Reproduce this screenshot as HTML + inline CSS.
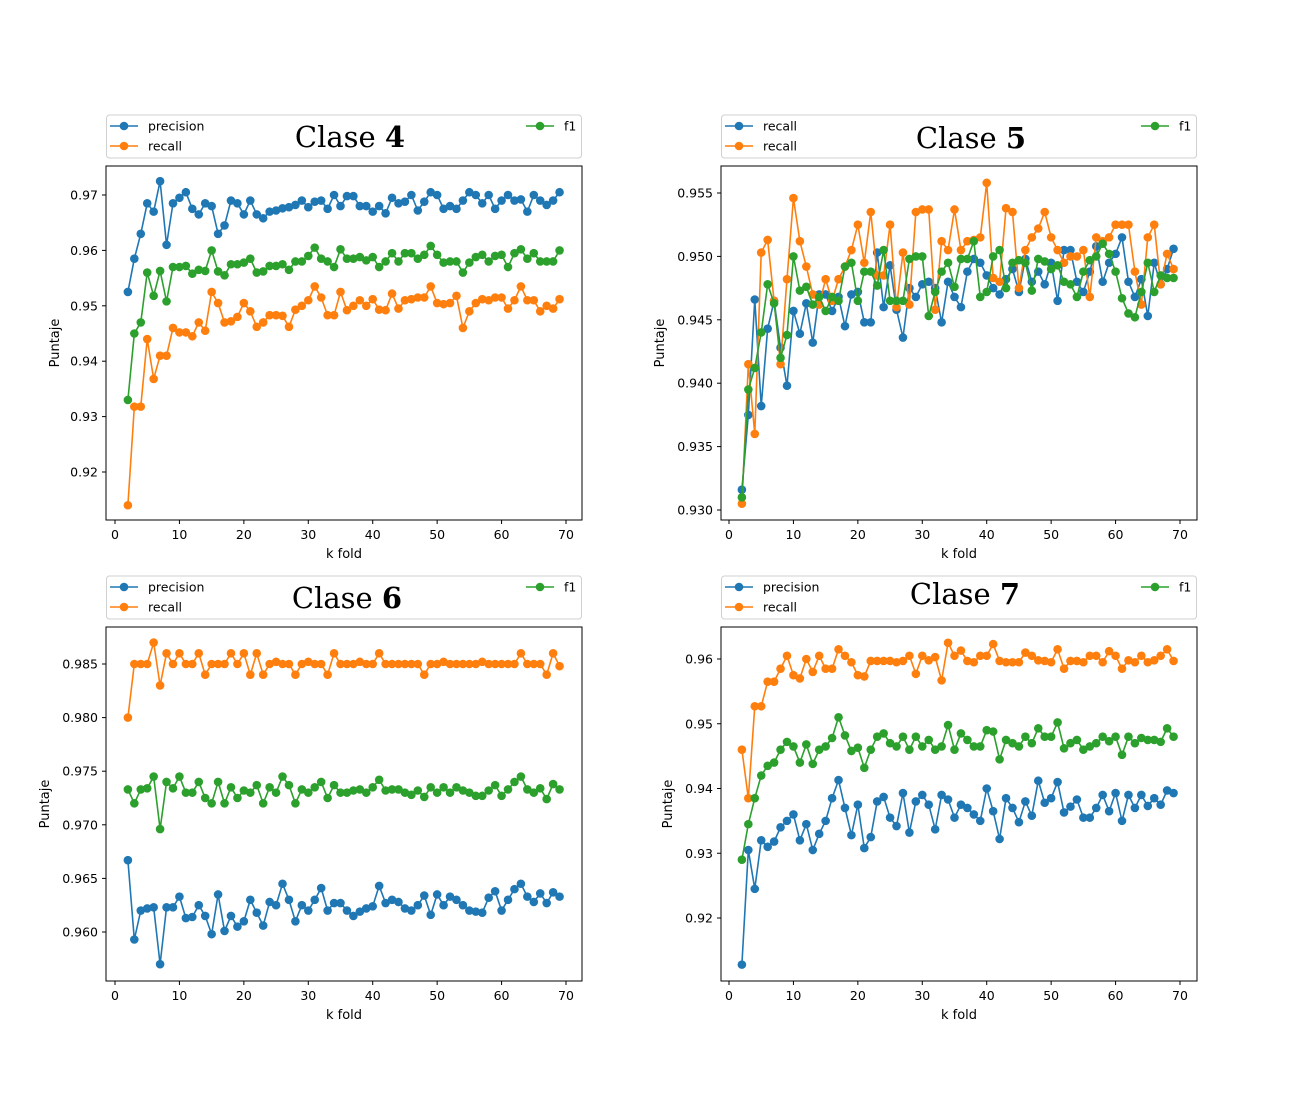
<!DOCTYPE html>
<html><head><meta charset="utf-8"><style>
body{margin:0;background:#fff;}
svg{display:block;font-family:"DejaVu Sans","Liberation Sans",sans-serif;}
</style></head><body>
<svg id="fig" width="1300" height="1100" viewBox="0 0 1300 1100" xmlns="http://www.w3.org/2000/svg"></svg>
<script>
const kFolds = Array.from({length:68},(_, i)=>i+2);
const xTicks = [0,10,20,30,40,50,60,70];

const c4Precision=[0.9525,0.9585,0.963,0.9685,0.967,0.9725,0.961,0.9685,0.9695,0.9705,0.9675,0.9665,0.9685,0.968,0.963,0.9645,0.969,0.9685,0.9665,0.969,0.9665,0.9658,0.967,0.9672,0.9676,0.9678,0.9682,0.969,0.9678,0.9688,0.969,0.9675,0.970,0.968,0.9698,0.9698,0.968,0.968,0.967,0.968,0.9667,0.9695,0.9685,0.9688,0.970,0.9672,0.9688,0.9705,0.970,0.9675,0.968,0.9675,0.969,0.9705,0.970,0.9685,0.970,0.9675,0.969,0.970,0.969,0.9692,0.967,0.970,0.969,0.9682,0.969,0.9705];
const c4Recall=[0.914,0.9318,0.9318,0.944,0.9368,0.941,0.941,0.946,0.9452,0.9452,0.9445,0.947,0.9455,0.9525,0.9505,0.947,0.9472,0.948,0.9505,0.949,0.9462,0.947,0.9483,0.9483,0.9482,0.9462,0.9493,0.950,0.951,0.9535,0.9515,0.9483,0.9483,0.9525,0.9492,0.950,0.951,0.950,0.9512,0.9493,0.9492,0.9522,0.9495,0.951,0.9512,0.9515,0.9515,0.9535,0.9505,0.9503,0.9505,0.9518,0.946,0.949,0.9505,0.9512,0.951,0.9515,0.9515,0.9495,0.951,0.9535,0.951,0.951,0.949,0.950,0.9495,0.9512];
const c4F1=[0.933,0.945,0.947,0.956,0.9518,0.9563,0.9508,0.957,0.957,0.9572,0.9558,0.9565,0.9563,0.960,0.9562,0.9555,0.9575,0.9575,0.9578,0.9585,0.956,0.9562,0.9572,0.9572,0.9575,0.9565,0.958,0.958,0.959,0.9605,0.9585,0.958,0.957,0.9602,0.9585,0.9585,0.9588,0.9582,0.9588,0.957,0.958,0.9595,0.958,0.9595,0.9595,0.9585,0.9592,0.9608,0.9592,0.9578,0.958,0.958,0.956,0.9578,0.9588,0.9592,0.958,0.959,0.9592,0.957,0.9595,0.9602,0.9585,0.9595,0.958,0.958,0.958,0.960];

const c5RecallA=[0.9316,0.9375,0.9466,0.9382,0.9443,0.9465,0.9428,0.9398,0.9457,0.9439,0.9463,0.9432,0.947,0.947,0.9457,0.9468,0.9445,0.947,0.9472,0.9448,0.9448,0.9503,0.946,0.9493,0.9458,0.9436,0.9475,0.9468,0.9478,0.948,0.9475,0.9448,0.948,0.9468,0.946,0.9488,0.9498,0.9495,0.9485,0.9475,0.947,0.9482,0.949,0.9472,0.9498,0.948,0.9488,0.9478,0.9495,0.9465,0.9505,0.9505,0.948,0.9472,0.9488,0.9508,0.948,0.9495,0.9502,0.9515,0.948,0.9468,0.9482,0.9453,0.9495,0.9478,0.949,0.9506];
const c5RecallB=[0.9305,0.9415,0.936,0.9503,0.9513,0.9465,0.9415,0.9482,0.9546,0.9512,0.9492,0.947,0.9462,0.9482,0.9465,0.9482,0.9492,0.9505,0.9525,0.9495,0.9535,0.9485,0.9485,0.9525,0.946,0.9503,0.9462,0.9535,0.9537,0.9537,0.9458,0.9512,0.9505,0.9537,0.9505,0.9512,0.9513,0.9515,0.9558,0.9483,0.948,0.9538,0.9535,0.9475,0.9505,0.9515,0.9522,0.9535,0.9515,0.9505,0.9495,0.950,0.950,0.9505,0.9468,0.9515,0.9512,0.9515,0.9525,0.9525,0.9525,0.9488,0.9462,0.9515,0.9525,0.9478,0.9502,0.949];
const c5F1=[0.9310,0.9395,0.9412,0.9440,0.9478,0.9463,0.9420,0.9438,0.9500,0.9473,0.9476,0.9462,0.9468,0.9457,0.9468,0.9465,0.9492,0.9495,0.9465,0.9488,0.9488,0.9477,0.9505,0.9465,0.9465,0.9465,0.9498,0.9500,0.9500,0.9453,0.9472,0.9488,0.9495,0.9476,0.9498,0.9498,0.9512,0.9468,0.9472,0.9500,0.9505,0.9475,0.9495,0.9497,0.9495,0.9473,0.9498,0.9496,0.9490,0.9493,0.9480,0.9478,0.9468,0.9488,0.9497,0.9500,0.9510,0.9502,0.9488,0.9467,0.9455,0.9452,0.9472,0.9495,0.9472,0.9485,0.9483,0.9483];

const c6Precision=[0.9667,0.9593,0.962,0.9622,0.9623,0.957,0.9623,0.9623,0.9633,0.9613,0.9614,0.9625,0.9615,0.9598,0.9635,0.9601,0.9615,0.9605,0.961,0.963,0.9618,0.9606,0.9628,0.9625,0.9645,0.963,0.961,0.9625,0.962,0.963,0.9641,0.962,0.9627,0.9627,0.962,0.9615,0.9619,0.9622,0.9624,0.9643,0.9627,0.963,0.9628,0.9622,0.962,0.9625,0.9634,0.9616,0.9635,0.9625,0.9633,0.963,0.9625,0.962,0.9619,0.9618,0.9632,0.9638,0.962,0.963,0.964,0.9645,0.9633,0.9628,0.9636,0.9627,0.9637,0.9633];
const c6Recall=[0.980,0.985,0.985,0.985,0.987,0.983,0.986,0.985,0.986,0.985,0.985,0.986,0.984,0.985,0.985,0.985,0.986,0.985,0.986,0.984,0.986,0.984,0.985,0.9852,0.985,0.985,0.984,0.985,0.9852,0.985,0.985,0.984,0.986,0.985,0.985,0.985,0.9852,0.985,0.985,0.986,0.985,0.985,0.985,0.985,0.985,0.985,0.984,0.985,0.985,0.9852,0.985,0.985,0.985,0.985,0.985,0.9852,0.985,0.985,0.985,0.985,0.985,0.986,0.985,0.985,0.985,0.984,0.986,0.9848];
const c6F1=[0.9733,0.972,0.9733,0.9734,0.9745,0.9696,0.974,0.9734,0.9745,0.973,0.973,0.974,0.9725,0.972,0.974,0.972,0.9735,0.9725,0.9732,0.973,0.9737,0.972,0.9735,0.973,0.9745,0.9737,0.972,0.9733,0.973,0.9735,0.974,0.9725,0.9737,0.973,0.973,0.9732,0.9733,0.973,0.9735,0.9742,0.9732,0.9733,0.9733,0.973,0.9728,0.9732,0.9726,0.9735,0.973,0.9735,0.973,0.9735,0.9732,0.973,0.9727,0.9727,0.9732,0.9737,0.9727,0.9733,0.974,0.9745,0.9733,0.973,0.9734,0.9724,0.9738,0.9733];

const c7Precision=[0.9128,0.9305,0.9245,0.932,0.931,0.9318,0.934,0.935,0.936,0.932,0.9345,0.9305,0.933,0.935,0.9385,0.9413,0.937,0.9328,0.9375,0.9308,0.9325,0.938,0.9387,0.9355,0.9342,0.9393,0.9332,0.938,0.939,0.9375,0.9337,0.939,0.9383,0.9355,0.9375,0.937,0.936,0.935,0.940,0.9365,0.9322,0.9385,0.937,0.9348,0.938,0.9358,0.9412,0.9378,0.9385,0.941,0.9363,0.9372,0.9383,0.9355,0.9355,0.937,0.939,0.9365,0.9393,0.935,0.939,0.937,0.939,0.9373,0.9385,0.9375,0.9397,0.9393];
const c7Recall=[0.946,0.9385,0.9527,0.9527,0.9565,0.9565,0.9585,0.9605,0.9575,0.957,0.960,0.958,0.9605,0.9585,0.9585,0.9615,0.9605,0.9595,0.9575,0.9573,0.9597,0.9597,0.9597,0.9597,0.9595,0.9597,0.9605,0.9577,0.9605,0.9598,0.9603,0.9567,0.9625,0.9605,0.9613,0.9597,0.9595,0.9605,0.9605,0.9623,0.9597,0.9595,0.9595,0.9595,0.961,0.9605,0.9598,0.9597,0.9595,0.9615,0.9585,0.9597,0.9597,0.9595,0.9605,0.9605,0.9595,0.9612,0.9605,0.9585,0.9598,0.9595,0.9605,0.9595,0.9598,0.9605,0.9615,0.9597];
const c7F1=[0.929,0.9345,0.9385,0.942,0.9435,0.944,0.946,0.9472,0.9465,0.944,0.9468,0.9438,0.946,0.9465,0.9478,0.951,0.9482,0.9458,0.9463,0.9432,0.946,0.948,0.9485,0.947,0.9465,0.948,0.946,0.948,0.9465,0.9475,0.946,0.9465,0.9498,0.946,0.9485,0.9475,0.9465,0.9465,0.949,0.9488,0.9445,0.9475,0.947,0.9465,0.948,0.947,0.9493,0.948,0.948,0.9502,0.9462,0.947,0.9475,0.946,0.9465,0.947,0.948,0.9473,0.948,0.9452,0.948,0.947,0.9478,0.9475,0.9475,0.9472,0.9493,0.948];

const yTicks4=[0.92,0.93,0.94,0.95,0.96,0.97];
const yTicks5=[0.930,0.935,0.940,0.945,0.950,0.955];
const yTicks6=[0.960,0.965,0.970,0.975,0.980,0.985];
const yTicks7=[0.92,0.93,0.94,0.95,0.96];

const NS="http://www.w3.org/2000/svg";
const svg=document.getElementById('fig');
const BLUE='#1f77b4',ORANGE='#ff7f0e',GREEN='#2ca02c';
function mk(tag,attrs,parent){const e=document.createElementNS(NS,tag);for(const k in attrs)e.setAttribute(k,attrs[k]);(parent||svg).appendChild(e);return e;}

function panel(p){
  const g=mk('g',{});
  
  
  const X=v=>p.x0+(v-0)*(p.x70-p.x0)/70;
  const Y=v=>p.yA+(v-p.vA)*(p.yB-p.yA)/(p.vB-p.vA);
  const fr=mk('rect',{x:p.l,y:p.t,width:p.r-p.l,height:p.b-p.t,fill:'#fff',stroke:'#000','stroke-width':1},g);
  
  
  xTicks.forEach(t=>{
    mk('line',{x1:X(t),x2:X(t),y1:p.b,y2:p.b+4,stroke:'#000'},g);
    const tx=mk('text',{x:X(t),y:p.b+19,'font-size':12.5,'text-anchor':'middle',fill:'#000'},g);
    tx.textContent=t;
    
    
  });
  p.yticks.forEach(t=>{
    mk('line',{x1:p.l-4,x2:p.l,y1:Y(t),y2:Y(t),stroke:'#000'},g);
    const tx=mk('text',{x:p.l-8,y:Y(t)+4.5,'font-size':12.5,'text-anchor':'end',fill:'#000'},g);
    tx.textContent=t.toFixed(p.dec);
    
    
  });
  const xl=mk('text',{x:(p.l+p.r)/2,y:p.b+38,'font-size':13,'text-anchor':'middle'},g);
  xl.textContent='k fold';
  
  
  const yl=mk('text',{x:p.ylx,y:(p.t+p.b)/2,'font-size':13,'text-anchor':'middle',transform:`rotate(-90 ${p.ylx} ${(p.t+p.b)/2})`},g);
  yl.textContent='Puntaje';
  
  
  p.series.forEach(s=>{
    const sg=mk('g',{},g);
    
    
    const pts=s.data.map((v,i)=>X(kFolds[i]).toFixed(2)+','+Y(v).toFixed(2)).join(' ');
    mk('polyline',{points:pts,fill:'none',stroke:s.color,'stroke-width':1.6},sg);
    s.data.forEach((v,i)=>{
      const c=mk('circle',{cx:X(kFolds[i]),cy:Y(v),r:4.3,fill:s.color},sg);
      
      
    });
  });
  const lg=mk('g',{},g);
  
  
  mk('rect',{x:p.l+0.5,y:p.lt,width:p.r-p.l-1,height:43,rx:3,fill:'#fff',stroke:'#d0d0d0'},lg);
  p.legend.forEach(e=>{
    mk('line',{x1:e.x,x2:e.x+28,y1:e.y,y2:e.y,stroke:e.color,'stroke-width':1.6},lg);
    mk('circle',{cx:e.x+14,cy:e.y,r:4.3,fill:e.color},lg);
    const t=mk('text',{x:e.x+38,y:e.y+4.5,'font-size':12.5},lg);
    t.textContent=e.label;
    
    
  });
  const ti=mk('text',{x:p.tx,y:p.ty,'font-size':29,'font-family':'"DejaVu Serif","Liberation Serif",serif','text-anchor':'middle'},g);
  ti.innerHTML=p.title+' <tspan font-weight="bold">'+p.num+'</tspan>';
  
  
}

function legendFor(l,lt,a,b){return [{x:l+4,y:lt+11,color:BLUE,label:a},{x:l+4,y:lt+31,color:ORANGE,label:b},{x:l+420,y:lt+11,color:GREEN,label:'f1'}];}

panel({name:'chart-clase-4',l:106,t:166,r:582,b:520,x0:115,x70:566,vA:0.97,yA:195,vB:0.92,yB:472,yticks:yTicks4,dec:2,ylx:59,lt:115,
  legend:legendFor(106,115,'precision','recall'),tx:350,ty:147,title:'Clase',num:'4',
  series:[{key:'precision',color:BLUE,data:c4Precision},{key:'recall',color:ORANGE,data:c4Recall},{key:'f1',color:GREEN,data:c4F1}]});
panel({name:'chart-clase-5',l:721,t:166,r:1197,b:520,x0:729,x70:1180,vA:0.955,yA:193,vB:0.930,yB:510,yticks:yTicks5,dec:3,ylx:664,lt:115,
  legend:legendFor(721,115,'recall','recall'),tx:971,ty:148,title:'Clase',num:'5',
  series:[{key:'recall-a',color:BLUE,data:c5RecallA},{key:'recall-b',color:ORANGE,data:c5RecallB},{key:'f1',color:GREEN,data:c5F1}]});
panel({name:'chart-clase-6',l:106,t:627,r:582,b:981,x0:115,x70:566,vA:0.985,yA:664,vB:0.960,yB:932,yticks:yTicks6,dec:3,ylx:49,lt:576,
  legend:legendFor(106,576,'precision','recall'),tx:347,ty:608,title:'Clase',num:'6',
  series:[{key:'precision',color:BLUE,data:c6Precision},{key:'recall',color:ORANGE,data:c6Recall},{key:'f1',color:GREEN,data:c6F1}]});
panel({name:'chart-clase-7',l:721,t:627,r:1197,b:981,x0:729,x70:1180,vA:0.96,yA:659,vB:0.92,yB:918,yticks:yTicks7,dec:2,ylx:672,lt:576,
  legend:legendFor(721,576,'precision','recall'),tx:965,ty:604,title:'Clase',num:'7',
  series:[{key:'precision',color:BLUE,data:c7Precision},{key:'recall',color:ORANGE,data:c7Recall},{key:'f1',color:GREEN,data:c7F1}]});
</script>
</body></html>
